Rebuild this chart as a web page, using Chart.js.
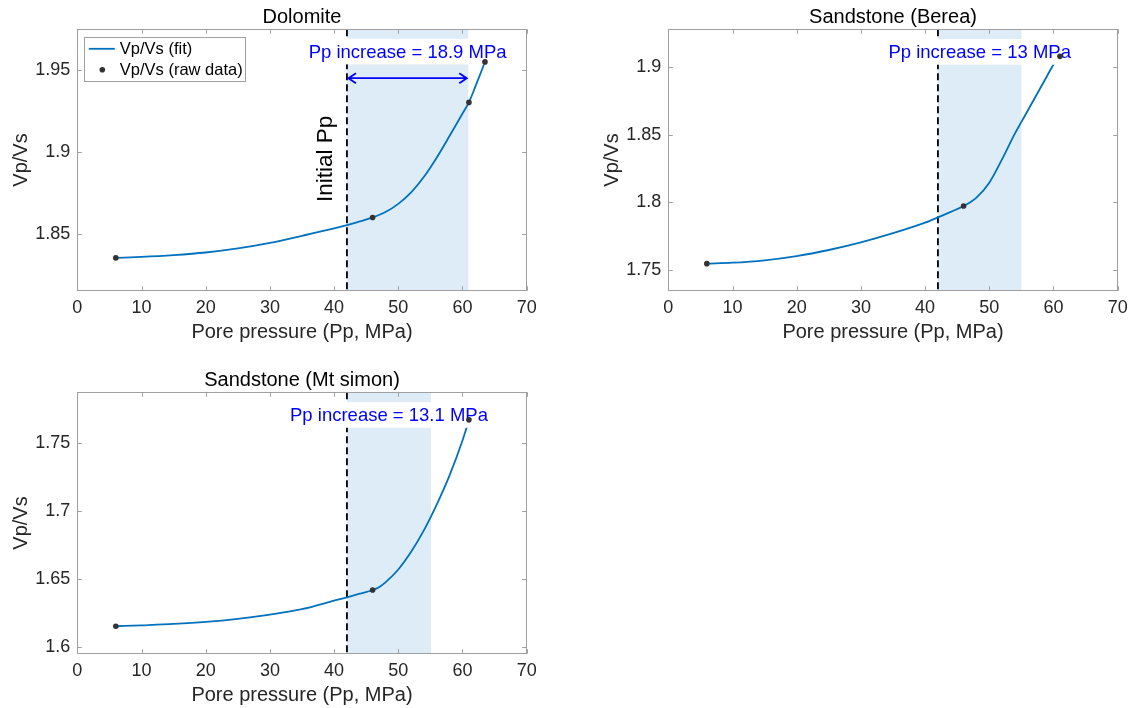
<!DOCTYPE html>
<html>
<head>
<meta charset="utf-8">
<script src="https://cdn.jsdelivr.net/npm/chart.js@4.4.0/dist/chart.umd.min.js"></script>
<style>
  body { margin: 0; background: #fff; width: 1135px; height: 708px; position: relative; overflow: hidden; }
  .panel { position: absolute; width: 560px; height: 345px; }
</style>
</head>
<body>
<div class="panel" style="left:0;top:0"><canvas id="c1" width="560" height="345"></canvas></div>
<div class="panel" style="left:591px;top:0"><canvas id="c2" width="560" height="345"></canvas></div>
<div class="panel" style="left:0;top:363px"><canvas id="c3" width="560" height="345"></canvas></div>

<script>
// ---- data ----
var xTicks = [0, 10, 20, 30, 40, 50, 60, 70];
var initialPp = 42;

// Dolomite
var dolRawX = [6, 46, 61, 63.5];
var dolRawY = [1.8355, 1.8602, 1.9304, 1.9551];
var dolFitX = [6, 10, 15, 20, 25, 30, 35, 40, 42, 44, 46, 48, 50, 52, 54, 56, 58, 60, 61, 62, 63.5];
var dolFitY = [1.8355, 1.8361, 1.8372, 1.8388, 1.8413, 1.8447, 1.849, 1.8535, 1.8555, 1.8578, 1.8602,
               1.8635, 1.8685, 1.8755, 1.885, 1.8968, 1.910, 1.9236, 1.9304, 1.940, 1.9551];
var dolIncrease = 18.9;
var dolYTicks = [1.85, 1.9, 1.95];

// Sandstone (Berea)
var berRawX = [6, 46, 61];
var berRawY = [1.7547, 1.7973, 1.908];
var berFitX = [6, 10, 15, 20, 25, 30, 35, 40, 42, 44, 46, 48, 50, 52, 54, 55, 56, 57, 58, 59, 60, 61];
var berFitY = [1.7547, 1.7554, 1.7572, 1.7603, 1.7648, 1.7704, 1.7772, 1.785, 1.7889, 1.793, 1.7973,
               1.8035, 1.8145, 1.832, 1.851, 1.8595, 1.868, 1.8765, 1.885, 1.8935, 1.902, 1.909];
var berIncrease = 13;
var berYTicks = [1.75, 1.8, 1.85, 1.9];

// Sandstone (Mt simon)
var mtsRawX = [6, 46, 61];
var mtsRawY = [1.6152, 1.6419, 1.7672];
var mtsFitX = [6, 10, 15, 20, 25, 30, 35, 40, 42, 44, 46, 47, 48, 50, 52, 54, 56, 58, 60, 61];
var mtsFitY = [1.6152, 1.6159, 1.6169, 1.6184, 1.6207, 1.6238, 1.6278, 1.634, 1.6365, 1.6392, 1.6419,
               1.644, 1.6475, 1.657, 1.670, 1.686, 1.705, 1.7265, 1.752, 1.767];
var mtsIncrease = 13.1;
var mtsYTicks = [1.6, 1.65, 1.7, 1.75];

// ---- styling ----
var FONT = '"Liberation Sans", Arial, Helvetica, sans-serif';
var fitColor = '#0072BD';
var dotColor = '#333333';
var shadeColor = '#deecf7';
var axisColor = '#a0a0a0';
var textColor = '#262626';

function pts(xs, ys) {
  return xs.map(function (x, i) { return { x: x, y: ys[i] }; });
}

function fmt(v) { return String(Number(v.toFixed(3))); }

var panelPlugin = {
  id: 'panelDeco',
  beforeDatasetsDraw: function (chart, args, opts) {
    var ctx = chart.ctx, a = chart.chartArea, xs = chart.scales.x;
    var x0 = xs.getPixelForValue(initialPp);
    var x1 = xs.getPixelForValue(initialPp + opts.increase);
    ctx.save();
    ctx.fillStyle = shadeColor;
    ctx.fillRect(x0, a.top, x1 - x0, a.bottom - a.top);
    ctx.strokeStyle = '#000';
    ctx.lineWidth = 1.8;
    ctx.setLineDash([7, 4]);
    ctx.beginPath();
    ctx.moveTo(x0, a.top);
    ctx.lineTo(x0, a.bottom);
    ctx.stroke();
    ctx.restore();
  },
  afterDatasetDraw: function (chart, args, opts) {
    if (args.index !== 1) return;
    var ctx = chart.ctx, xs = chart.scales.x, ys = chart.scales.y;
    var label = 'Pp increase = ' + opts.increase + ' MPa';
    var cx = xs.getPixelForValue(initialPp + opts.increase / 2);
    var cy = ys.getPixelForValue(opts.labelY);
    ctx.save();
    ctx.font = '18.5px ' + FONT;
    var w = ctx.measureText(label).width;
    ctx.fillStyle = '#fff';
    ctx.fillRect(cx - w / 2 - 4, cy - 12.8, w + 8, 25.6);
    ctx.fillStyle = '#0000ff';
    ctx.textAlign = 'center';
    ctx.textBaseline = 'middle';
    ctx.fillText(label, cx, cy + 1);
    ctx.restore();
  },
  afterDraw: function (chart, args, opts) {
    var ctx = chart.ctx, a = chart.chartArea, xs = chart.scales.x, ys = chart.scales.y;
    var tl = 4.5;
    ctx.save();
    // axes box + inward ticks
    ctx.strokeStyle = axisColor;
    ctx.lineWidth = 1;
    ctx.strokeRect(Math.round(a.left) + 0.5, Math.round(a.top) + 0.5,
                   Math.round(a.right - a.left), Math.round(a.bottom - a.top));
    ctx.beginPath();
    xTicks.forEach(function (v) {
      var p = Math.round(xs.getPixelForValue(v)) + 0.5;
      ctx.moveTo(p, a.bottom); ctx.lineTo(p, a.bottom - tl);
      ctx.moveTo(p, a.top); ctx.lineTo(p, a.top + tl);
    });
    opts.yTicks.forEach(function (v) {
      var p = Math.round(ys.getPixelForValue(v)) + 0.5;
      ctx.moveTo(a.left, p); ctx.lineTo(a.left + tl, p);
      ctx.moveTo(a.right, p); ctx.lineTo(a.right - tl, p);
    });
    ctx.stroke();

    if (opts.arrowY) {
      var x0 = xs.getPixelForValue(initialPp);
      var x1 = xs.getPixelForValue(initialPp + opts.increase);
      var ay = ys.getPixelForValue(opts.arrowY);
      ctx.strokeStyle = '#0000ff';
      ctx.lineWidth = 1.8;
      ctx.beginPath();
      ctx.moveTo(x0 + 1, ay); ctx.lineTo(x1 - 1, ay);
      ctx.moveTo(x0 + 9, ay - 5); ctx.lineTo(x0 + 1.5, ay); ctx.lineTo(x0 + 9, ay + 5);
      ctx.moveTo(x1 - 9, ay - 5); ctx.lineTo(x1 - 1.5, ay); ctx.lineTo(x1 - 9, ay + 5);
      ctx.stroke();
    }

    if (opts.initialLabelY) {
      ctx.fillStyle = '#000';
      ctx.font = '22.5px ' + FONT;
      ctx.textAlign = 'center';
      ctx.textBaseline = 'middle';
      ctx.translate(xs.getPixelForValue(initialPp) - 21, ys.getPixelForValue(opts.initialLabelY));
      ctx.rotate(-Math.PI / 2);
      ctx.fillText('Initial Pp', 0, 0);
      ctx.setTransform(1, 0, 0, 1, 0, 0);
    }

    if (opts.legend) {
      var lx = a.left + 7, ly = a.top + 8, lw = 161, lh = 44;
      ctx.fillStyle = '#fff';
      ctx.fillRect(lx, ly, lw, lh);
      ctx.strokeStyle = axisColor;
      ctx.lineWidth = 1;
      ctx.strokeRect(Math.round(lx) + 0.5, Math.round(ly) + 0.5, lw, lh);
      var ds = chart.data.datasets;
      ctx.strokeStyle = fitColor;
      ctx.lineWidth = 1.8;
      ctx.beginPath();
      ctx.moveTo(lx + 4.5, ly + 11.5); ctx.lineTo(lx + 30.5, ly + 11.5);
      ctx.stroke();
      ctx.fillStyle = dotColor;
      ctx.beginPath();
      ctx.arc(lx + 18, ly + 32.5, 2.8, 0, Math.PI * 2);
      ctx.fill();
      ctx.fillStyle = '#000';
      ctx.font = '16.5px ' + FONT;
      ctx.textAlign = 'left';
      ctx.textBaseline = 'middle';
      ctx.fillText(ds[1].label, lx + 35.5, ly + 12);
      ctx.fillText(ds[0].label, lx + 35.5, ly + 33);
    }
    ctx.restore();
  }
};

function makePanel(id, title, rawX, rawY, fitX, fitY, yTicks, yMin, yMax, deco) {
  deco.yTicks = yTicks;
  return new Chart(document.getElementById(id), {
    type: 'scatter',
    data: {
      datasets: [
        {
          label: 'Vp/Vs (raw data)',
          data: pts(rawX, rawY),
          pointRadius: 2.8,
          pointBackgroundColor: dotColor,
          pointBorderWidth: 0,
          order: 0
        },
        {
          label: 'Vp/Vs (fit)',
          data: pts(fitX, fitY),
          showLine: true,
          pointRadius: 0,
          borderColor: fitColor,
          borderWidth: 1.8,
          cubicInterpolationMode: 'monotone',
          order: 1
        }
      ]
    },
    options: {
      responsive: false,
      animation: false,
      layout: { padding: { left: 0, right: 33.3, top: 0, bottom: 0 } },
      plugins: {
        legend: { display: false },
        tooltip: { enabled: false },
        title: {
          display: true,
          text: title,
          fullSize: false,
          color: '#000',
          font: { family: FONT, size: 20, weight: 'normal' },
          padding: { top: 5.3, bottom: 0 }
        },
        panelDeco: deco
      },
      scales: {
        x: {
          type: 'linear',
          min: 0, max: 70,
          grid: { display: false, drawTicks: false },
          border: { display: false },
          afterFit: function (s) { s.height = 54.3; },
          afterBuildTicks: function (s) { s.ticks = xTicks.map(function (v) { return { value: v }; }); },
          ticks: { color: textColor, padding: 7, font: { family: FONT, size: 18 }, maxRotation: 0 },
          title: { display: true, text: 'Pore pressure (Pp, MPa)', color: textColor,
                   font: { family: FONT, size: 20 }, padding: { top: 0, bottom: 1 } }
        },
        y: {
          type: 'linear',
          min: yMin, max: yMax,
          grid: { display: false, drawTicks: false },
          border: { display: false },
          afterFit: function (s) { s.width = 77.3; },
          afterBuildTicks: function (s) { s.ticks = yTicks.map(function (v) { return { value: v }; }); },
          ticks: { color: textColor, padding: 7, font: { family: FONT, size: 18 },
                   callback: function (v) { return fmt(v); } },
          title: { display: true, text: 'Vp/Vs', color: textColor,
                   font: { family: FONT, size: 20 }, padding: { top: 9, bottom: 0 } }
        }
      }
    },
    plugins: [panelPlugin]
  });
}

makePanel('c1', 'Dolomite', dolRawX, dolRawY, dolFitX, dolFitY, dolYTicks, 1.8155, 1.975,
  { increase: dolIncrease, labelY: 1.9614, arrowY: 1.9452, initialLabelY: 1.896, legend: true });
makePanel('c2', 'Sandstone (Berea)', berRawX, berRawY, berFitX, berFitY, berYTicks, 1.7347, 1.928,
  { increase: berIncrease, labelY: 1.9113 });
makePanel('c3', 'Sandstone (Mt simon)', mtsRawX, mtsRawY, mtsFitX, mtsFitY, mtsYTicks, 1.595, 1.7875,
  { increase: mtsIncrease, labelY: 1.7708 });
</script>
</body>
</html>
